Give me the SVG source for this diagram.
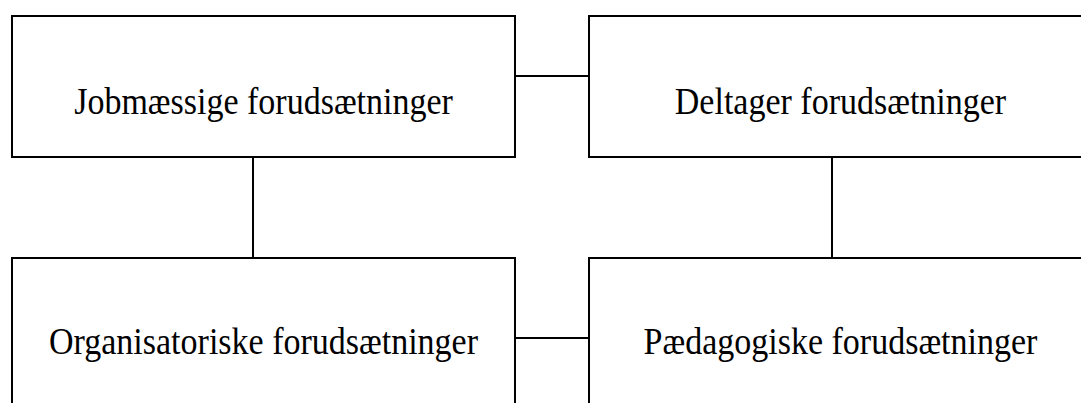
<svg xmlns="http://www.w3.org/2000/svg" width="1081" height="403" viewBox="0 0 1081 403">
  <style>
    .box { fill: #ffffff; stroke: #000000; stroke-width: 2; }
    .link { stroke: #000000; stroke-width: 2; fill: none; }
    .label { font-family: "Liberation Serif", "Times New Roman", serif; font-size: 38px; fill: #000000; text-anchor: middle; }
  </style>
  <rect width="1081" height="403" fill="#ffffff"/>
  <g id="connectors">
    <line class="link" x1="515" y1="76" x2="589" y2="76"/>
    <line class="link" x1="253" y1="157" x2="253" y2="258"/>
    <line class="link" x1="832" y1="157" x2="832" y2="258"/>
    <line class="link" x1="515" y1="338" x2="589" y2="338"/>
  </g>
  <!-- labels use a slightly condensed serif: full height, 0.895 width -->
  <g id="jobmaessige">
    <rect class="box" x="12" y="16" width="503" height="141"/>
    <text class="label" transform="translate(263.5 114) scale(0.895 1)">Jobmæssige forudsætninger</text>
  </g>
  <g id="deltager">
    <rect class="box" x="589" y="16" width="503" height="141"/>
    <text class="label" transform="translate(840.5 114) scale(0.895 1)">Deltager forudsætninger</text>
  </g>
  <g id="organisatoriske">
    <rect class="box" x="12" y="258" width="503" height="200"/>
    <text class="label" transform="translate(263.5 354) scale(0.895 1)">Organisatoriske forudsætninger</text>
  </g>
  <g id="paedagogiske">
    <rect class="box" x="589" y="258" width="503" height="200"/>
    <text class="label" transform="translate(840.5 354) scale(0.895 1)">Pædagogiske forudsætninger</text>
  </g>
</svg>
